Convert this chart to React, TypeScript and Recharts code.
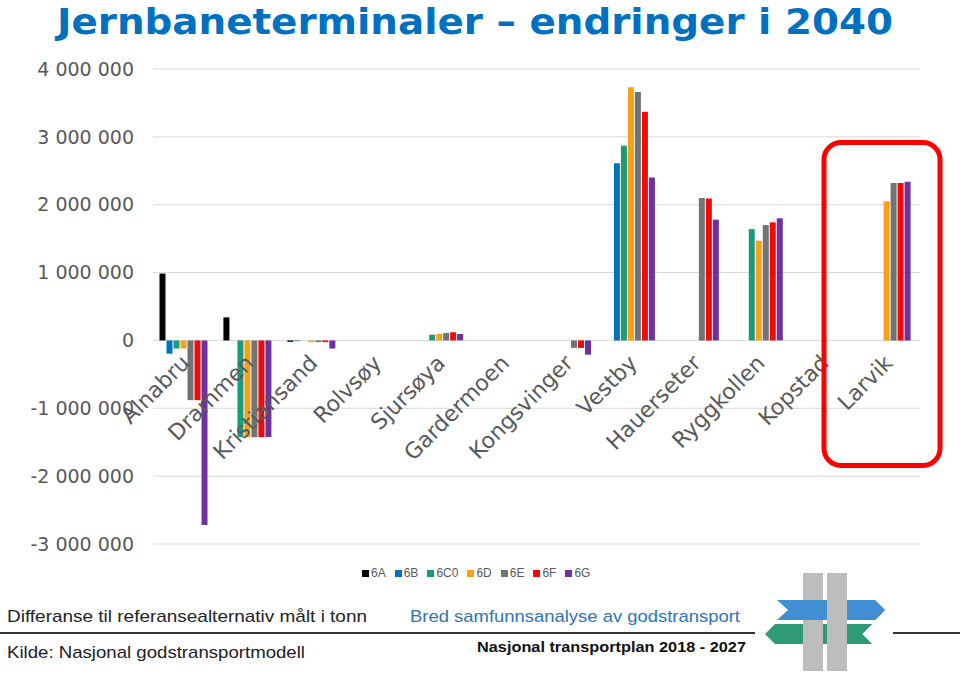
import React from "react";
import {
  BarChart,
  Bar,
  XAxis,
  YAxis,
  CartesianGrid,
  Legend,
} from "recharts";

const categories = [
  "Alnabru",
  "Drammen",
  "Kristiansand",
  "Rolvsøy",
  "Sjursøya",
  "Gardermoen",
  "Kongsvinger",
  "Vestby",
  "Hauerseter",
  "Ryggkollen",
  "Kopstad",
  "Larvik",
];

const s6A = [985000, 340000, -20000, 0, 0, 0, 0, 0, 0, 0, 0, 0];
const s6B = [-195000, 0, -10000, 0, 0, 0, 0, 2610000, 0, 0, 0, 0];
const s6C0 = [-120000, -1425000, 0, 0, 85000, 0, 0, 2870000, 0, 1640000, 0, 0];
const s6D = [-120000, -1425000, -25000, 0, 95000, 0, 0, 3730000, 0, 1470000, 0, 2050000];
const s6E = [-880000, -1425000, -25000, 0, 110000, 0, -110000, 3660000, 2100000, 1700000, 0, 2320000];
const s6F = [-880000, -1425000, -25000, 0, 120000, 0, -110000, 3370000, 2090000, 1740000, 0, 2320000];
const s6G = [-2720000, -1425000, -120000, 0, 95000, 0, -210000, 2400000, 1780000, 1800000, 0, 2340000];

const yTicks = [-3000000, -2000000, -1000000, 0, 1000000, 2000000, 3000000, 4000000];

const series = [
  { key: "6A", values: s6A, color: "#000000" },
  { key: "6B", values: s6B, color: "#0070C0" },
  { key: "6C0", values: s6C0, color: "#1A9B7D" },
  { key: "6D", values: s6D, color: "#F8A01A" },
  { key: "6E", values: s6E, color: "#737373" },
  { key: "6F", values: s6F, color: "#F00A0A" },
  { key: "6G", values: s6G, color: "#7030A0" },
];

const data = categories.map((name, i) => {
  const row: any = { name };
  series.forEach((s) => (row[s.key] = s.values[i]));
  return row;
});

const PLOT_TOP = 69;
const PLOT_BOTTOM = 544;
const Y_MIN = -3000000;
const Y_MAX = 4000000;
const ZERO_Y = PLOT_TOP + ((PLOT_BOTTOM - PLOT_TOP) * Y_MAX) / (Y_MAX - Y_MIN);

const fmt = (v: number) => {
  const s = Math.abs(v)
    .toString()
    .replace(/\B(?=(\d{3})+(?!\d))/g, " ");
  return v < 0 ? "-" + s : s;
};

// category names sit just under the zero line, rotated like Excel does it
const CategoryTick = (props: any) => {
  const { x, payload } = props;
  const ax = x + 6;
  const ay = ZERO_Y + 24;
  return (
    <text
      x={ax}
      y={ay}
      textAnchor="end"
      transform={`rotate(-45 ${ax} ${ay})`}
      style={{ fontSize: 22, fontFamily: "DejaVu Sans, Verdana, sans-serif" }}
      fill="#595959">
      {payload.value}
    </text>
  );
};

const LegendContent = (props: any) => {
  const { payload } = props;
  return (
    <div style={{ display: "flex", gap: 9, fontFamily: "Liberation Sans, Arial, sans-serif", fontSize: 12, color: "#595959" }}>
      {payload.map((p: any) => (
        <span key={p.value} style={{ display: "flex", alignItems: "center" }}>
          <span style={{ display: "inline-block", width: 7, height: 7, background: p.color, marginRight: 2 }} />
          {p.value}
        </span>
      ))}
    </div>
  );
};

export default function App() {
  return (
    <div style={{ position: "absolute", top: 0, left: 0, width: 960, height: 675, background: "#fff", overflow: "hidden" }}>
      <BarChart
        width={960}
        height={675}
        data={data}
        margin={{ top: PLOT_TOP, right: 40, left: 0, bottom: 675 - PLOT_BOTTOM - 30 }}
        barCategoryGap={6.5}
        barGap={1}>
        <CartesianGrid vertical={false} stroke="#d9d9d9" strokeWidth={1} />
        <XAxis
          dataKey="name"
          axisLine={false}
          tickLine={false}
          height={30}
          interval={0}
          tick={<CategoryTick />}
        />
        <YAxis
          width={153}
          domain={[Y_MIN, Y_MAX]}
          ticks={yTicks}
          axisLine={false}
          tickLine={false}
          tickSize={0}
          tickMargin={19}
          tickFormatter={fmt}
          tick={{ fontSize: 19, fill: "#595959", fontFamily: "DejaVu Sans, Verdana, sans-serif" }}
        />
        <Legend
          layout="horizontal"
          verticalAlign="middle"
          align="center"
          wrapperStyle={{ top: 566, left: 362, width: 260 }}
          content={<LegendContent />}
        />
        {series.map((s) => (
          <Bar key={s.key} dataKey={s.key} name={s.key} fill={s.color} isAnimationActive={false} />
        ))}
      </BarChart>

      <svg
        width={960}
        height={675}
        style={{ position: "absolute", top: 0, left: 0, pointerEvents: "none" }}>
        <text
          x={57}
          y={34}
          fontSize={36}
          fontWeight="bold"
          fontFamily="DejaVu Sans, Verdana, sans-serif"
          fill="#0070C0"
          textLength={836}
          lengthAdjust="spacingAndGlyphs">
          Jernbaneterminaler – endringer i 2040
        </text>

        <rect x={824} y={142.5} width={116} height={323} rx={17} fill="none" stroke="#FF0000" strokeWidth={5} />

        <text x={7} y={622} fontSize={17} fontFamily="Liberation Sans Narrow, Liberation Sans, Arial, sans-serif" fill="#222" textLength={360} lengthAdjust="spacingAndGlyphs">
          Differanse til referansealternativ målt i tonn
        </text>
        <text x={410} y={622} fontSize={17} fontFamily="Liberation Sans Narrow, Liberation Sans, Arial, sans-serif" fill="#2E75B6" textLength={330} lengthAdjust="spacingAndGlyphs">
          Bred samfunnsanalyse av godstransport
        </text>
        <line x1={0} y1={633} x2={755} y2={633} stroke="#333" strokeWidth={2} />
        <line x1={893} y1={633} x2={960} y2={633} stroke="#333" strokeWidth={2} />
        <text x={7} y={658} fontSize={17} fontFamily="Liberation Sans Narrow, Liberation Sans, Arial, sans-serif" fill="#222" textLength={298} lengthAdjust="spacingAndGlyphs">
          Kilde: Nasjonal godstransportmodell
        </text>
        <text x={477} y={652} fontSize={15} fontWeight="bold" fontFamily="Liberation Sans Narrow, Liberation Sans, Arial, sans-serif" fill="#111" textLength={269} lengthAdjust="spacingAndGlyphs">
          Nasjonal transportplan 2018 - 2027
        </text>

        {/* logo */}
        <polygon points="765,634 775,624 872,624 862,634 872,644 775,644" fill="#2E9A78" />
        <rect x={803} y={573} width={20} height={98} fill="#BDBDBD" />
        <polygon points="777,600 875,600 885,610 875,620 777,620 788,610" fill="#3F8FD2" />
        <rect x={827} y={573} width={20} height={98} fill="#BDBDBD" />
        <polygon points="847,624 872,624 862,634 872,644 847,644" fill="#2E9A78" />
        <polygon points="847,600 875,600 885,610 875,620 847,620" fill="#3F8FD2" />
      </svg>
    </div>
  );
}
